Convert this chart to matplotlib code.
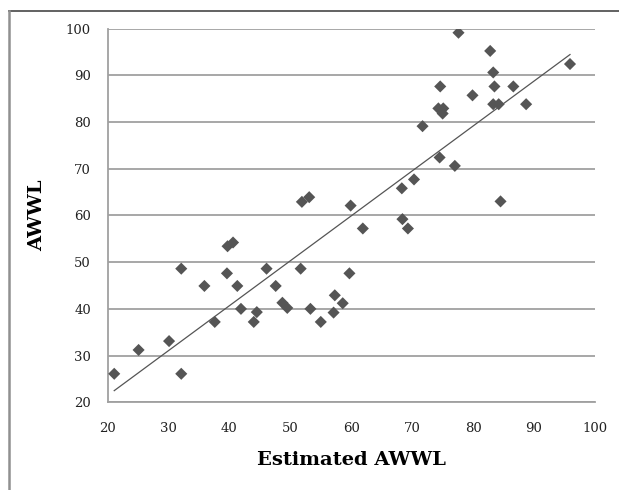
import numpy as np
import matplotlib
matplotlib.use("Agg")
import matplotlib.pyplot as plt
from matplotlib.lines import Line2D

# Data: estimated AWWL (x) vs observed AWWL (y)
estimated = [21.1, 25.1, 30.1, 32.1, 32.1, 35.9, 37.6, 39.6, 39.7, 40.6,
             41.3, 41.9, 44.0, 44.5, 46.1, 47.6, 48.7, 49.5, 51.7, 51.9,
             53.1, 53.3, 55.0, 57.1, 57.3, 58.6, 59.7, 59.9, 61.9, 68.3,
             68.4, 69.3, 70.3, 71.7, 74.5, 74.3, 74.6, 75.1, 75.0, 77.0,
             77.6, 79.9, 82.8, 83.3, 83.5, 83.3, 84.2, 84.5, 86.6, 88.7,
             95.9]
awwl = [26.1, 31.2, 33.1, 48.6, 26.1, 44.9, 37.2, 47.6, 53.4, 54.2,
        44.9, 40.0, 37.2, 39.3, 48.6, 44.9, 41.3, 40.2, 48.6, 62.9,
        63.9, 40.0, 37.2, 39.2, 42.9, 41.2, 47.6, 62.1, 57.2, 65.8,
        59.2, 57.2, 67.7, 79.1, 72.4, 82.9, 87.6, 82.9, 81.8, 70.6,
        99.1, 85.7, 95.2, 90.6, 87.6, 83.8, 83.8, 63.0, 87.6, 83.8,
        92.4]
x_ticks = [20, 30, 40, 50, 60, 70, 80, 90, 100]
y_ticks = [20, 30, 40, 50, 60, 70, 80, 90, 100]

fig = plt.figure(figsize=(6.19, 4.90), dpi=100)
ax = fig.add_axes([0.1737, 0.179, 0.9612 - 0.1737, 0.9418 - 0.179])

x = np.array(estimated)
y = np.array(awwl)
ax.scatter(x, y, marker='D', s=38, color='#555555', edgecolors='none', zorder=3)

# linear trend line
slope, intercept = np.polyfit(x, y, 1)
xl = np.array([x.min(), x.max()])
ax.plot(xl, slope * xl + intercept, color='#555555', lw=0.9, zorder=2)

ax.set_xlim(20, 100)
ax.set_ylim(20, 100)
ax.set_xticks(x_ticks)
ax.set_yticks(y_ticks)

serif = ['DejaVu Serif']
ax.set_xticklabels([str(v) for v in x_ticks], family=serif, fontsize=9.5, color='#222222')
ax.set_yticklabels([str(v) for v in y_ticks], family=serif, fontsize=9.5, color='#222222')
ax.tick_params(axis='x', length=0, pad=14)
ax.tick_params(axis='y', length=0, pad=12)

ax.yaxis.grid(True, color='#a0a0a0', lw=1.3)
ax.set_axisbelow(True)
for side in ['top', 'right']:
    ax.spines[side].set_visible(False)
ax.spines['left'].set_color('#a0a0a0')
ax.spines['bottom'].set_color('#a0a0a0')
ax.spines['left'].set_linewidth(1.3)
ax.spines['bottom'].set_linewidth(1.3)

ax.set_xlabel('Estimated AWWL', family=serif, fontsize=14, fontweight='bold', labelpad=12)
ax.set_ylabel('AWWL', family=serif, fontsize=14, fontweight='bold', labelpad=14)

# figure frame: top and left lines
fig.add_artist(Line2D([9 / 619, 1], [1 - 11 / 490, 1 - 11 / 490], color='#555555', lw=1.3,
                      transform=fig.transFigure))
fig.add_artist(Line2D([9 / 619, 9 / 619], [0, 1 - 11 / 490], color='#909090', lw=1.8,
                      transform=fig.transFigure))

fig.savefig('out.png', dpi=100)
